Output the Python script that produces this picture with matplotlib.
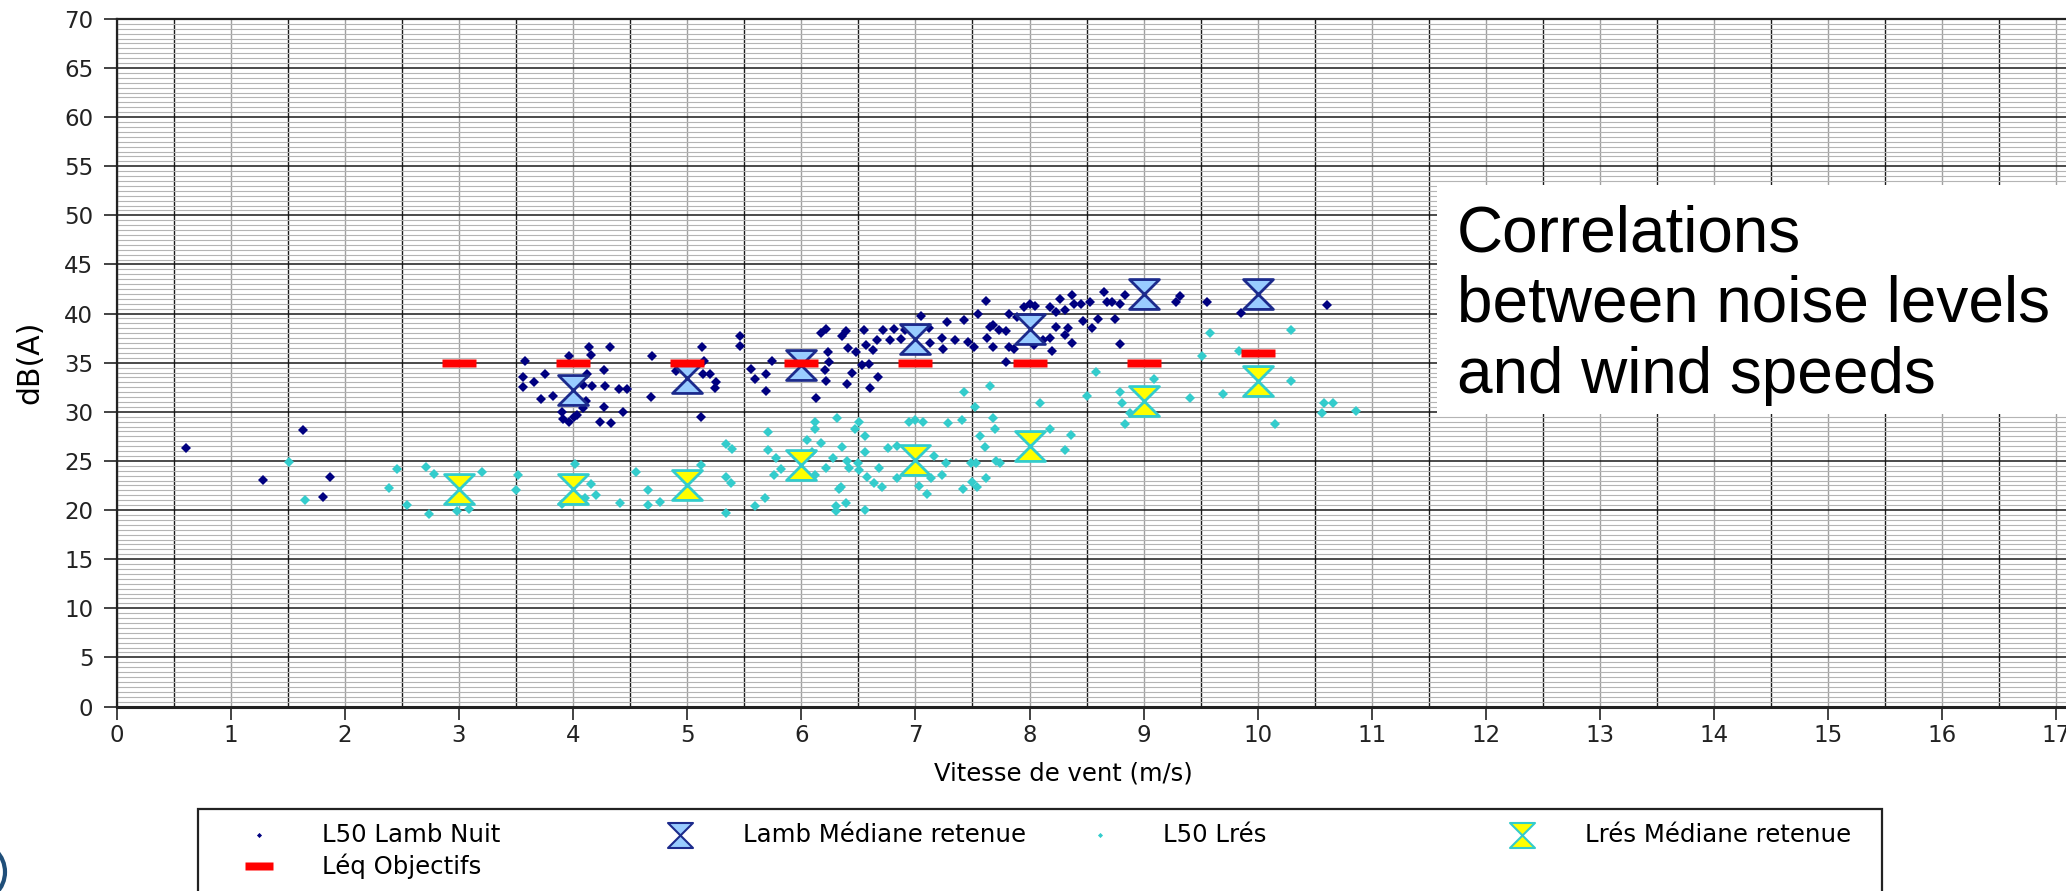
import numpy as np
import matplotlib
matplotlib.use("Agg")
import matplotlib.pyplot as plt
from matplotlib.lines import Line2D
from matplotlib.patches import Rectangle, Arc
from matplotlib.path import Path
from matplotlib.ticker import MultipleLocator

# L50 Lamb Nuit (navy diamonds)
lamb_x = [0.61, 1.28, 1.63, 1.81, 1.87,
          3.58, 3.56, 3.56, 3.66, 3.75, 3.72, 3.82, 3.90, 3.91, 3.96, 4.01, 4.03,
          3.96, 4.14, 4.16, 4.12, 4.09, 4.17, 4.11, 4.09, 4.32, 4.27, 4.28, 4.27,
          4.24, 4.33, 4.40, 4.47, 4.44, 4.69, 4.68,
          4.90, 5.13, 5.15, 5.14, 5.20, 5.25, 5.24, 5.12, 5.46, 5.46, 5.56, 5.59,
          5.69, 5.74, 5.69, 6.00, 6.13, 6.17, 6.22, 6.23, 6.24, 6.21, 6.22, 6.36,
          6.39, 6.41, 6.44, 6.40, 6.48, 6.55, 6.57, 6.53, 6.59, 6.60, 6.63, 6.67,
          6.66, 6.72, 6.78, 6.81, 6.87, 6.91, 7.05, 7.12, 7.13, 7.23, 7.24, 7.28,
          7.35, 7.43, 7.46, 7.51, 7.55, 7.62, 7.63, 7.65,
          7.68, 7.73, 7.79, 7.68, 7.82, 7.86, 7.79, 7.82, 7.89, 7.95, 8.00, 8.05,
          8.04, 8.12, 8.18, 8.20, 8.18, 8.23, 8.27, 8.23, 8.31, 8.31, 8.34, 8.37,
          8.37, 8.39, 8.45, 8.47, 8.53, 8.55, 8.60, 8.65, 8.68, 8.72, 8.75, 8.79,
          8.84, 8.79, 9.28, 9.32, 9.56, 9.85, 10.61]
lamb_y = [26.3, 23.1, 28.1, 21.3, 23.4,
          35.2, 33.5, 32.5, 33.0, 33.8, 31.3, 31.65, 30.0, 29.3, 29.0, 29.5, 29.7,
          35.7, 36.6, 35.8, 33.8, 32.7, 32.6, 31.1, 30.4, 36.6, 34.3, 32.6, 30.5,
          29.0, 28.9, 32.3, 32.3, 30.0, 35.7, 31.5,
          34.2, 36.6, 35.2, 33.9, 33.9, 33.0, 32.4, 29.5, 37.7, 36.7, 34.4, 33.3,
          33.9, 35.2, 32.1, 35.9, 31.4, 38.0, 38.4, 36.1, 35.1, 34.3, 33.1, 37.7,
          38.2, 36.5, 34.0, 32.8, 36.1, 38.3, 36.8, 34.8, 34.9, 32.4, 36.3, 33.5,
          37.3, 38.3, 37.3, 38.4, 37.4, 38.3, 39.8, 38.5, 37.0, 37.5, 36.4, 39.1,
          37.3, 39.3, 37.1, 36.6, 40.0, 41.3, 37.5, 38.6,
          38.8, 38.3, 38.2, 36.6, 36.6, 36.4, 35.1, 40.0, 39.7, 40.7, 41.0, 40.8,
          36.8, 37.3, 37.5, 36.2, 40.7, 40.2, 41.5, 38.6, 40.4, 37.8, 38.5, 37.0,
          41.9, 41.0, 41.0, 39.2, 41.2, 38.5, 39.4, 42.2, 41.2, 41.2, 39.4, 41.0,
          41.9, 36.9, 41.2, 41.8, 41.2, 40.1, 40.9]

# L50 Lrés (cyan diamonds)
lres_x = [1.51, 1.65, 2.39, 2.46, 2.54, 2.71, 2.78, 2.74, 2.98, 3.09, 3.20, 3.50,
          3.52, 3.90, 4.02, 4.16, 4.20, 4.10, 4.41, 4.55, 4.66, 4.66, 4.76, 5.12,
          5.34, 5.39, 5.34, 5.38, 5.34, 5.59, 5.68, 5.71, 5.71, 5.78, 5.76, 5.82,
          6.05, 6.12, 6.12, 6.17, 6.09, 6.12, 6.22, 6.31, 6.36, 6.28, 6.35, 6.33,
          6.30, 6.30, 6.39, 6.40, 6.42, 6.47, 6.51, 6.56, 6.56, 6.50, 6.51, 6.58,
          6.64, 6.68, 6.71, 6.56, 6.76, 6.84, 6.84, 6.94, 7.00, 7.07, 7.16, 7.14,
          7.23, 7.27, 7.03, 7.10, 7.29, 7.41, 7.43, 7.52, 7.49, 7.53, 7.42, 7.50,
          7.54, 7.57, 7.61, 7.62, 7.65, 7.68, 7.70, 7.71, 7.74, 8.09, 8.18, 8.36,
          8.31, 8.50, 8.58, 8.79, 8.81, 8.88, 8.84, 9.09, 9.41, 9.51, 9.58, 9.70,
          9.84, 10.29, 10.29, 10.15, 10.56, 10.58, 10.66, 10.86]
lres_y = [24.9, 21.0, 22.2, 24.2, 20.5, 24.4, 23.7, 19.6, 19.9, 20.1, 23.9, 22.0,
          23.6, 20.6, 24.7, 22.7, 21.5, 21.25, 20.7, 23.9, 22.0, 20.5, 20.8, 24.6,
          26.7, 26.2, 23.4, 22.8, 19.7, 20.4, 21.2, 27.9, 26.1, 25.3, 23.6, 24.2,
          27.1, 29.0, 28.2, 26.8, 25.9, 23.6, 24.3, 29.4, 26.4, 25.3, 22.3, 22.1,
          20.4, 19.9, 20.7, 25.0, 24.3, 28.2, 29.0, 27.5, 25.9, 24.8, 24.1, 23.4,
          22.8, 24.3, 22.3, 20.0, 26.3, 26.5, 23.3, 29.0, 29.2, 29.0, 25.5, 23.3,
          23.6, 24.8, 22.4, 21.6, 28.9, 29.2, 32.0, 30.5, 24.8, 24.8, 22.1, 22.9,
          22.3, 27.5, 26.4, 23.3, 32.6, 29.4, 28.3, 25.0, 24.8, 30.9, 28.3, 27.6,
          26.1, 31.6, 34.1, 32.0, 30.9, 29.9, 28.8, 33.3, 31.4, 35.7, 38.0, 31.8,
          36.2, 38.3, 33.1, 28.75, 29.9, 30.9, 30.9, 30.1]

# medians and objectives per wind speed
lamb_med_x = [4, 5, 6, 7, 8, 9, 10]
lamb_med_y = [32.2, 33.4, 34.8, 37.4, 38.4, 42.0, 42.0]
lres_med_x = [3, 4, 5, 6, 7, 8, 9, 10]
lres_med_y = [22.1, 22.1, 22.5, 24.6, 25.1, 26.5, 31.1, 33.1]
leq_x = [3, 4, 5, 6, 7, 8, 9, 10]
leq_y = [35, 35, 35, 35, 35, 35, 35, 36]

W, H = 2066, 891
fig = plt.figure(figsize=(W / 100, H / 100), dpi=100)

def fx(px):
    return px / W

def fy(py):
    return 1 - py / H

ax = fig.add_axes([fx(116.7), fy(706.5), 1 - fx(116.7), fy(18.9) - fy(706.5)])

hourglass = Path([(-1, 1), (1, 1), (-1, -1), (1, -1), (-1, 1)],
                 [Path.MOVETO, Path.LINETO, Path.LINETO, Path.LINETO, Path.CLOSEPOLY])
bar = [(-1, -0.27), (1, -0.27), (1, 0.27), (-1, 0.27), (-1, -0.27)]

ax.plot(lamb_x, lamb_y, ls="none", marker="D", ms=4.8, mfc="#000080", mec="#000080", mew=0, zorder=3)
ax.plot(lres_x, lres_y, ls="none", marker="D", ms=4.8, mfc="#33cccc", mec="#33cccc", mew=0, zorder=3)
ax.plot(lamb_med_x, lamb_med_y, ls="none", marker=hourglass, ms=21.5, mfc="#99ccff",
        mec="#1c2a8c", mew=2.0, zorder=4)
ax.plot(lres_med_x, lres_med_y, ls="none", marker=hourglass, ms=21.5, mfc="#ffff00",
        mec="#33cccc", mew=2.0, zorder=4)
ax.plot(leq_x, leq_y, ls="none", marker=bar, ms=23.8, mfc="#ff0000", mec="none", zorder=5)

ax.set_xlim(0, (W - 116.7) / 114.1)
ax.set_ylim(0, 70)
ax.xaxis.set_major_locator(MultipleLocator(1))
ax.xaxis.set_minor_locator(MultipleLocator(0.5))
ax.yaxis.set_major_locator(MultipleLocator(5))
ax.yaxis.set_minor_locator(MultipleLocator(0.5))
ax.set_axisbelow(True)
ax.grid(axis="x", which="major", color="#a0a0a0", lw=1.0)
ax.grid(axis="x", which="minor", color="#1a1a1a", lw=1.0)
ax.grid(axis="y", which="major", color="#1a1a1a", lw=1.1)
ax.grid(axis="y", which="minor", color="#b4b4b4", lw=0.8)

ax.tick_params(which="minor", length=0)
ax.tick_params(axis="x", which="major", length=9.3, width=1.2, pad=3, labelsize=16.5, colors="#222222")
ax.tick_params(axis="y", which="major", length=9.3, width=1.2, pad=7.5, labelsize=16.5, colors="#222222")

for s in ["left", "bottom", "top"]:
    ax.spines[s].set_color("#222222")
    ax.spines[s].set_linewidth(1.6)
ax.spines["bottom"].set_linewidth(2.2)
ax.spines["right"].set_visible(False)

ax.set_xlabel("Vitesse de vent (m/s)", fontsize=17.5)
ax.xaxis.set_label_coords(0.4856, -0.080)
ax.set_ylabel("dB(A)", fontsize=21.5)
ax.yaxis.set_label_coords(-0.037, 0.5)

# title box over the grid
fig.add_artist(Rectangle((fx(1436.7), fy(414)), 1 - fx(1436.7), fy(185) - fy(414),
                         transform=fig.transFigure, facecolor="white", edgecolor="none", zorder=5))
for line, base in zip(["Correlations", "between noise levels", "and wind speeds"], [251, 322, 393]):
    fig.text(fx(1457), fy(base), line, fontsize=46, family="Liberation Sans",
             ha="left", va="baseline", zorder=6)

# legend drawn by hand
fig.add_artist(Rectangle((fx(198), fy(895)), fx(1882) - fx(198), fy(809) - fy(895),
                         transform=fig.transFigure, facecolor="white", edgecolor="#222222",
                         lw=1.6, zorder=5))
entries = [
    (259, 835, dict(marker="D", ms=2.6, mfc="#000080", mec="#000080", mew=0), "L50 Lamb Nuit"),
    (680, 835, dict(marker=hourglass, ms=18, mfc="#99ccff", mec="#1c2a8c", mew=1.5), "Lamb Médiane retenue"),
    (1100, 835, dict(marker="D", ms=2.6, mfc="#33cccc", mec="#33cccc", mew=0), "L50 Lrés"),
    (1522, 835, dict(marker=hourglass, ms=18, mfc="#ffff00", mec="#33cccc", mew=1.5), "Lrés Médiane retenue"),
    (259, 866, dict(marker=bar, ms=19.5, mfc="#ff0000", mec="none"), "Léq Objectifs"),
]
for mx, my, kw, label in entries:
    fig.add_artist(Line2D([fx(mx)], [fy(my)], ls="none", transform=fig.transFigure, zorder=6, **kw))
    fig.text(fx(mx + 63), fy(my), label, fontsize=17.6, ha="left", va="center", zorder=6)

# bit of a shape clipped at the left edge
fig.add_artist(Arc((fx(-25), fy(872)), fx(60), 60 / H, theta1=-90, theta2=90,
                   transform=fig.transFigure, color="#1f4e79", lw=3, zorder=6))

fig.savefig("out.png", dpi=100)
